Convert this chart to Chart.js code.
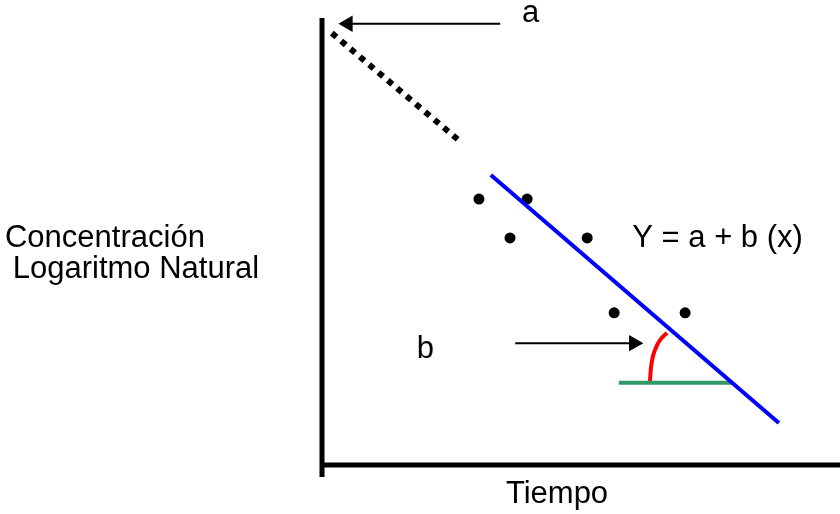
<!DOCTYPE html>
<html>
<head>
<meta charset="utf-8">
<script src="https://cdn.jsdelivr.net/npm/chart.js@4/dist/chart.umd.min.js"></script>
<style>
  body { margin: 0; background: #fff; }
</style>
</head>
<body>
<canvas id="lnChart" width="840" height="514"></canvas>
<script>
// observed concentrations (ln) over time
const obsX = [3.03, 3.96, 3.63, 5.12, 5.64, 7.01];
const obsY = [5.94, 5.94, 5.07, 5.07, 3.39, 3.39];

// fitted line and its extrapolation to the intercept
const fitX = [3.26, 8.82];
const fitY = [6.48, 0.92];
const extraX = [0.19, 2.70];
const extraY = [9.66, 7.20];

// slope angle marker
const baseX = [5.73, 7.93];
const baseY = [1.82, 1.82];
const arcX = [6.33, 6.35, 6.39, 6.47, 6.56, 6.66];
const arcY = [1.84, 2.15, 2.42, 2.67, 2.83, 2.94];

// pointer arrows (shaft ends, head)
const arrowAX = [3.44, 0.50];
const arrowAY = [9.87, 9.87];
const arrowBX = [3.73, 6.02];
const arrowBY = [2.71, 2.71];

// axes
const yAxisX = [0, 0];
const yAxisY = [10, -0.29];
const xAxisX = [0, 10];
const xAxisY = [-0.02, -0.02];

// labels
const labelText = ['a', 'Y = a + b (x)', 'b', 'Concentración', 'Logaritmo Natural', 'Tiempo'];
const labelX = [3.86, 5.99, 1.83, -6.12, -5.97, 3.55];
const labelY = [9.91, 4.87, 2.38, 4.87, 4.17, -0.87];

const pts = (xs, ys) => xs.map((x, i) => ({ x: x, y: ys[i] }));

const seg = (xs, ys, color, width, dash) => ({
  type: 'line',
  data: pts(xs, ys),
  borderColor: color,
  borderWidth: width,
  borderDash: dash || [],
  pointRadius: 0,
  fill: false,
  tension: 0,
  clip: false
});

// draw free text labels
const labelPlugin = {
  id: 'labels',
  afterDatasetsDraw(chart) {
    const ctx = chart.ctx;
    const sx = chart.scales.x, sy = chart.scales.y;
    ctx.save();
    ctx.fillStyle = '#000';
    ctx.font = '31px "Liberation Sans", Arial, sans-serif';
    ctx.textAlign = 'left';
    ctx.textBaseline = 'alphabetic';
    labelText.forEach((t, i) => {
      ctx.fillText(t, sx.getPixelForValue(labelX[i]), sy.getPixelForValue(labelY[i]));
    });
    ctx.restore();
  }
};

const arcSet = seg(arcX, arcY, '#ff0000', 4);
arcSet.cubicInterpolationMode = 'monotone';

new Chart('lnChart', {
  type: 'scatter',
  data: {
    datasets: [
      seg(yAxisX, yAxisY, '#000', 5),
      seg(xAxisX, xAxisY, '#000', 5),
      seg(extraX, extraY, '#000', 6, [6, 6.2]),
      seg(fitX, fitY, '#0000ff', 4),
      seg(baseX, baseY, 'rgb(51,153,102)', 4),
      arcSet,
      seg(arrowAX, arrowAY, '#000', 2),
      seg(arrowBX, arrowBY, '#000', 2),
      {
        data: [{ x: arrowAX[1], y: arrowAY[1] }],
        pointStyle: 'triangle',
        rotation: -90,
        pointRadius: 9.5,
        backgroundColor: '#000',
        borderWidth: 0,
        clip: false
      },
      {
        data: [{ x: arrowBX[1], y: arrowBY[1] }],
        pointStyle: 'triangle',
        rotation: 90,
        pointRadius: 9.5,
        backgroundColor: '#000',
        borderWidth: 0,
        clip: false
      },
      {
        data: pts(obsX, obsY),
        pointRadius: 5.5,
        backgroundColor: '#000',
        borderWidth: 0,
        clip: false
      }
    ]
  },
  options: {
    responsive: false,
    animation: false,
    layout: { autoPadding: false, padding: { left: 322, right: 0, top: 18, bottom: 50 } },
    plugins: {
      legend: { display: false },
      tooltip: { enabled: false }
    },
    scales: {
      x: { type: 'linear', min: 0, max: 10, display: false },
      y: { type: 'linear', min: 0, max: 10, display: false }
    }
  },
  plugins: [labelPlugin]
});
</script>
</body>
</html>
